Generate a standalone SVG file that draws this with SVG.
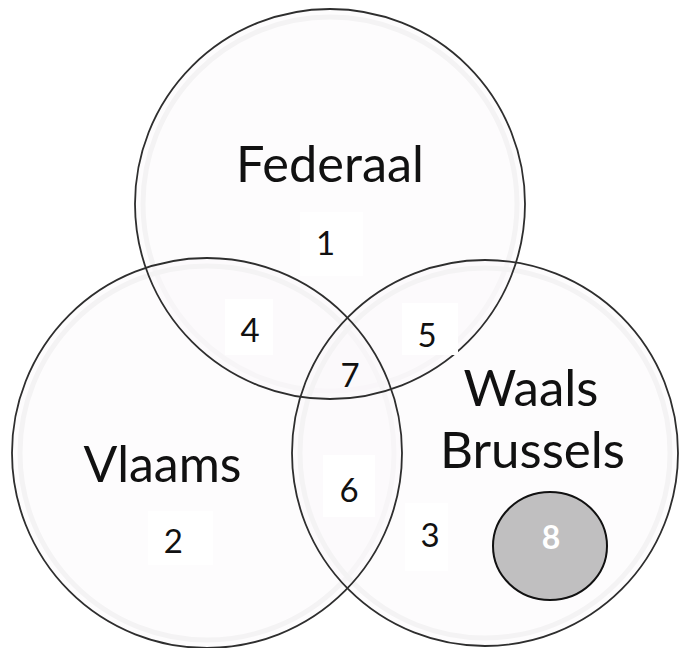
<svg xmlns="http://www.w3.org/2000/svg" width="679" height="648" viewBox="0 0 679 648">
<style>
.set{fill:#faf9fa;fill-opacity:0.45;stroke:none}
.glow{fill:none;stroke:#f4f3f4;stroke-width:5}
.lbl{font-family:Lato,"Open Sans","Liberation Sans",sans-serif;font-size:50px;fill:#111;text-anchor:middle}
.box{fill:#ffffff}
.num{font-family:Lato,"Open Sans","Liberation Sans",sans-serif;font-size:33px;fill:#111;text-anchor:middle}
</style>
<rect width="679" height="648" fill="#ffffff"/>
<g id="sets">
<g id="federaal-circle">
<circle class="set" cx="330" cy="204" r="195"/>
<circle class="glow" cx="330" cy="204" r="187"/>
</g>
<g id="vlaams-circle">
<circle class="set" cx="207" cy="453" r="195"/>
<circle class="glow" cx="207" cy="453" r="187"/>
</g>
<g id="waals-circle">
<circle class="set" cx="485" cy="453" r="193"/>
<circle class="glow" cx="485" cy="453" r="185"/>
</g>
<g id="outlines" fill="none" stroke="#2e2e2e" stroke-width="1.8">
<circle cx="330" cy="204" r="195"/>
<circle cx="207" cy="453" r="195"/>
<circle cx="485" cy="453" r="193"/>
</g>
</g>
<g id="federaal-label"><text class="lbl" x="330" y="181.5" textLength="188" lengthAdjust="spacingAndGlyphs">Federaal</text></g>
<g id="vlaams-label"><text class="lbl" x="162.5" y="481.5" textLength="158" lengthAdjust="spacingAndGlyphs">Vlaams</text></g>
<g id="waals-label">
<text class="lbl" x="531" y="406" textLength="135" lengthAdjust="spacingAndGlyphs">Waals</text>
<text class="lbl" x="532.5" y="468" textLength="185" lengthAdjust="spacingAndGlyphs">Brussels</text>
</g>
<g id="region-1"><rect class="box" x="300" y="212" width="63" height="64"/><text class="num" x="325.5" y="255">1</text></g>
<g id="region-4"><rect class="box" x="225" y="299" width="48" height="56"/><text class="num" x="250" y="341.7">4</text></g>
<g id="region-5"><rect class="box" x="402" y="303" width="56" height="52"/><text class="num" x="427" y="347.3">5</text></g>
<g id="region-7"><text class="num" x="350" y="386.7">7</text></g>
<g id="region-6"><rect class="box" x="323" y="455" width="52" height="62"/><text class="num" x="349" y="501.7">6</text></g>
<g id="region-3"><rect class="box" x="405" y="503" width="43" height="68"/><text class="num" x="430" y="547.3">3</text></g>
<g id="region-2"><rect class="box" x="148" y="511" width="65" height="54"/><text class="num" x="173.3" y="553.3">2</text></g>
<g id="region-8">
<ellipse cx="550" cy="546" rx="57" ry="54" fill="#c0bfc0" stroke="#111" stroke-width="2"/>
<text class="num" x="551" y="549.3" style="fill:#ffffff;font-size:32px;font-weight:bold">8</text>
</g>
</svg>
